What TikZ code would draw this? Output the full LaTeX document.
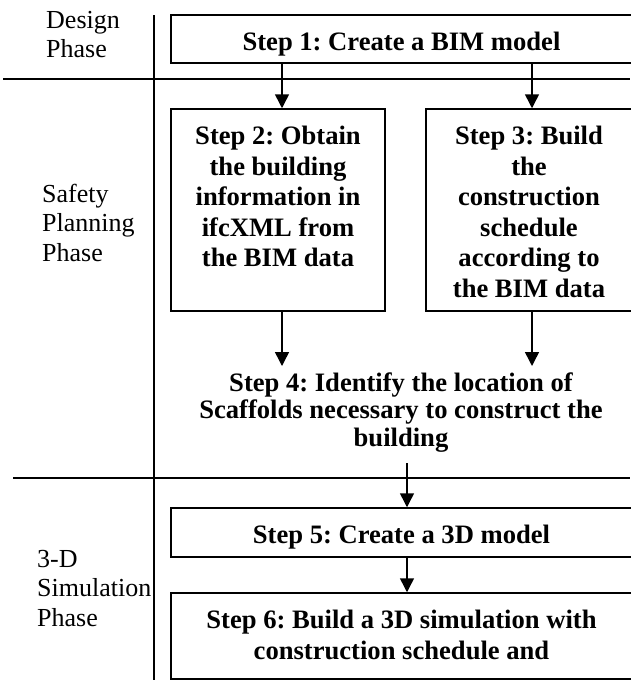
\documentclass[tikz,border=0pt]{standalone}
\usepackage{fontspec}
\setmainfont{Liberation Serif}
\usetikzlibrary{arrows.meta}
\frenchspacing

% text block inside a step box: fixed size, first baseline 35.5pt below the top
\newcommand{\boxtext}[3]{\parbox[c][#2][t]{#1}{\centering\rule{0pt}{35.5pt}#3}}

\tikzset{
  frame/.style={draw, line width=1.5pt, inner sep=0pt},
  stepfont/.style={font=\fontsize{26.6}{30.5}\selectfont\bfseries},
  freefont/.style={font=\fontsize{26.6}{27.5}\selectfont\bfseries},
  phasefont/.style={font=\fontsize{26}{29.5}\selectfont, inner sep=0pt, anchor=base west},
  flow/.style={line width=1.5pt, -{Triangle[length=14pt,width=14pt]}},
  divider/.style={line width=1.5pt},
}

\begin{document}
\begin{tikzpicture}[x=1pt, y=-1pt]
\useasboundingbox (0,0) rectangle (630,680);

% phase dividers
\coordinate (v1) at (154,15);
\coordinate (v2) at (154,680);
\coordinate (h1a) at (3,79);
\coordinate (h1b) at (630,79);
\coordinate (h2a) at (13,478);
\coordinate (h2b) at (630,478);
\draw[divider] (v1) -- (v2);
\draw[divider] (h1a) -- (h1b);
\draw[divider] (h2a) -- (h2b);

% phase labels
\node[phasefont] (p1) at (46,28) {\parbox[t]{100pt}{\raggedright Design\\Phase}};
\node[phasefont] (p2) at (42,202) {\parbox[t]{110pt}{\raggedright Safety\\Planning\\Phase}};
\node[phasefont] (p3) at (37,567) {\parbox[t]{115pt}{\raggedright 3-D\\Simulation\\Phase}};

% steps
\node[frame, stepfont] (s1) at (401.5,39)
  {\boxtext{461pt}{48pt}{Step 1: Create a BIM model}};
\node[frame, stepfont] (s2) at (278,210)
  {\boxtext{214pt}{202pt}{Step 2: Obtain\\the building\\information in\\ifcXML from\\the BIM data}};
\node[frame, stepfont] (s3) at (529,210)
  {\boxtext{206pt}{202pt}{Step 3: Build\\the\\construction\\schedule\\according to\\the BIM data}};
\node[freefont, inner sep=0pt, anchor=north] (s4) at (401,366)
  {\parbox{440pt}{\centering\rule{0pt}{25pt}Step 4: Identify the location of\\Scaffolds necessary to construct the\\building\rule[-17pt]{0pt}{17pt}}};
\node[frame, stepfont] (s5) at (401.5,532.5)
  {\boxtext{461pt}{49pt}{Step 5: Create a 3D model}};
\node[frame, stepfont] (s6) at (401.5,636)
  {\boxtext{461pt}{86pt}{Step 6: Build a 3D simulation with\\construction schedule and}};

% arrow columns
\coordinate (xa) at (282,0);
\coordinate (xb) at (532,0);
\coordinate (xc) at (407,0);

\draw[flow] (s1.south -| xa) -- (s2.north -| xa);
\draw[flow] (s1.south -| xb) -- (s3.north -| xb);
\draw[flow] (s2.south -| xa) -- (s4.north -| xa);
\draw[flow] (s3.south -| xb) -- (s4.north -| xb);
\draw[flow] (s4.south -| xc) -- (s5.north -| xc);
\draw[flow] (s5.south -| xc) -- (s6.north -| xc);
\end{tikzpicture}
\end{document}
